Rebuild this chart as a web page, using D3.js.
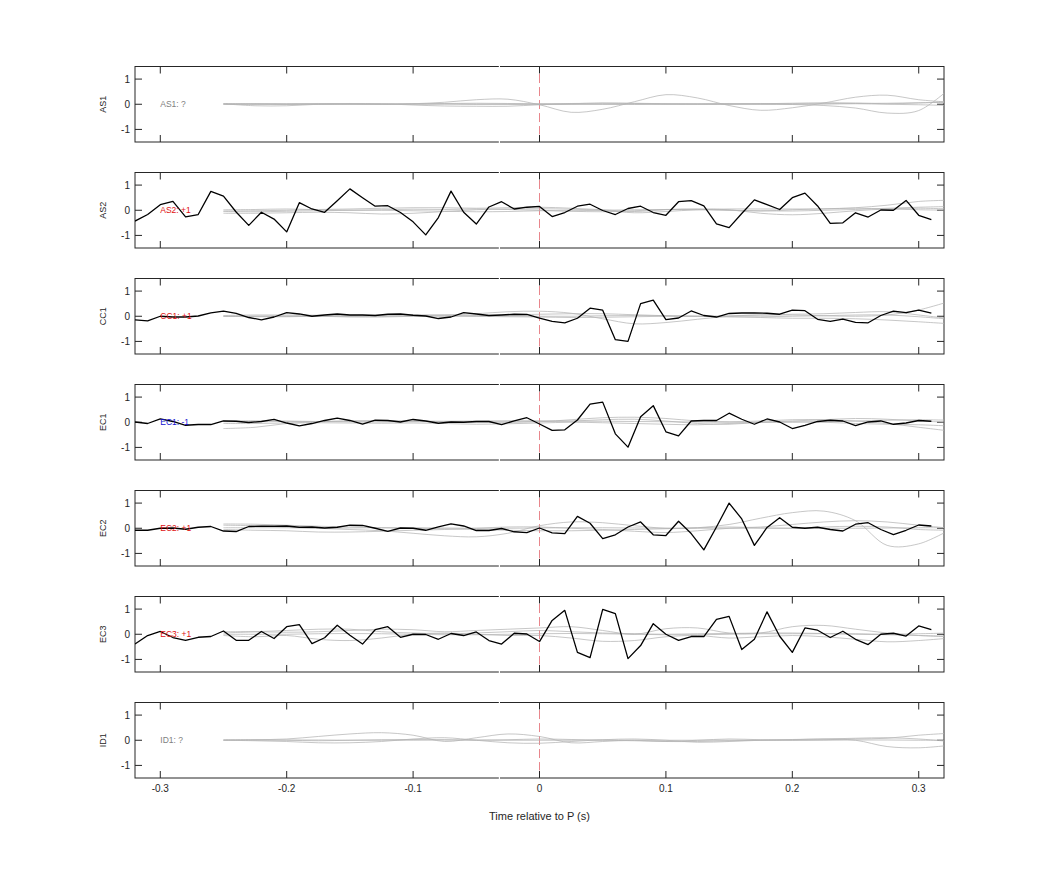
<!DOCTYPE html>
<html><head><meta charset="utf-8">
<script src="https://cdn.jsdelivr.net/npm/d3@7"></script>
<style>body{margin:0;background:#fff}svg{display:block}text{font-family:"Liberation Sans",Arial,sans-serif}</style>
</head><body><svg id="c" width="1042" height="875"></svg>
<script>
const panels = ["AS1","AS2","CC1","EC1","EC2","EC3","ID1"];
const labels = ["AS1: ?","AS2: +1","CC1: +1","EC1: -1","EC2: +1","EC3: +1","ID1: ?"];
const labelColors = ["#808080","#e01010","#e01010","#1010d0","#e01010","#e01010","#808080"];
const xTicks = [-0.3,-0.2,-0.1,0,0.1,0.2,0.3];
const yTicks = [-1,0,1];

const tBlack = [-0.32,-0.31,-0.30,-0.29,-0.28,-0.27,-0.26,-0.25,-0.24,-0.23,-0.22,-0.21,-0.20,-0.19,-0.18,-0.17,-0.16,-0.15,-0.14,-0.13,-0.12,-0.11,-0.10,-0.09,-0.08,-0.07,-0.06,-0.05,-0.04,-0.03,-0.02,-0.01,
0.00,0.01,0.02,0.03,0.04,0.05,0.06,0.07,0.08,0.09,0.10,0.11,0.12,0.13,0.14,0.15,0.16,0.17,0.18,0.19,0.20,0.21,0.22,0.23,0.24,0.25,0.26,0.27,0.28,0.29,0.30,0.31];

const blackAS2 = [-0.43,-0.17,0.22,0.35,-0.26,-0.17,0.75,0.56,-0.07,-0.60,-0.08,-0.35,-0.86,0.30,0.05,-0.08,0.38,0.85,0.50,0.16,0.18,-0.09,-0.46,-0.98,-0.29,0.76,-0.08,-0.55,0.13,0.34,0.05,0.12,
0.15,-0.25,-0.09,0.16,0.24,-0.01,-0.17,0.07,0.16,-0.09,-0.20,0.34,0.38,0.17,-0.54,-0.69,-0.13,0.41,0.22,0.03,0.50,0.68,0.17,-0.52,-0.50,-0.10,-0.27,0.01,0.00,0.39,-0.20,-0.37];
const blackCC1 = [-0.14,-0.18,0.00,-0.03,-0.03,0.01,0.13,0.20,0.11,-0.05,-0.14,-0.03,0.14,0.09,0.00,0.05,0.09,0.05,0.05,0.03,0.08,0.09,0.04,0.01,-0.09,-0.03,0.14,0.09,0.03,0.05,0.08,0.07,
-0.07,-0.20,-0.26,-0.08,0.32,0.24,-0.93,-1.00,0.50,0.64,-0.13,-0.07,0.21,0.03,-0.03,0.11,0.13,0.13,0.12,0.08,0.24,0.22,-0.12,-0.20,-0.11,-0.24,-0.26,0.03,0.20,0.14,0.24,0.12];
const blackEC1 = [0.01,-0.05,0.13,0.03,-0.12,-0.09,-0.09,0.05,0.04,-0.01,0.03,0.11,-0.03,-0.14,-0.05,0.07,0.16,0.07,-0.07,0.08,0.07,0.01,0.11,0.05,-0.04,0.01,0.00,0.03,0.03,-0.09,0.05,0.18,
-0.07,-0.32,-0.30,0.09,0.72,0.80,-0.46,-0.99,0.22,0.66,-0.38,-0.54,0.05,0.07,0.07,0.36,0.12,-0.08,0.13,0.01,-0.25,-0.12,0.03,0.08,0.05,-0.13,0.01,0.05,-0.08,-0.03,0.07,0.04];
const blackEC2 = [-0.08,-0.08,0.00,0.01,-0.04,0.04,0.07,-0.11,-0.13,0.07,0.08,0.08,0.09,0.04,0.05,0.01,0.04,0.12,0.11,0.00,-0.12,0.01,0.00,-0.08,0.05,0.17,0.09,-0.09,-0.09,-0.01,-0.14,-0.17,
0.01,-0.18,-0.21,0.47,0.20,-0.41,-0.26,0.05,0.25,-0.26,-0.29,0.28,-0.21,-0.86,0.05,1.00,0.37,-0.68,0.03,0.42,0.04,0.00,0.04,-0.05,-0.11,0.16,0.22,-0.05,-0.25,-0.08,0.13,0.09];
const blackEC3 = [-0.39,-0.05,0.11,-0.13,-0.24,-0.12,-0.09,0.13,-0.24,-0.24,0.11,-0.17,0.30,0.38,-0.37,-0.14,0.36,-0.04,-0.39,0.18,0.30,-0.12,0.00,-0.01,-0.20,0.03,-0.05,0.09,-0.25,-0.39,0.04,0.01,
-0.29,0.55,0.95,-0.72,-0.93,0.99,0.82,-0.97,-0.45,0.42,0.00,-0.24,-0.09,-0.09,0.59,0.71,-0.61,-0.20,0.89,-0.08,-0.72,0.25,0.16,-0.13,0.12,-0.20,-0.41,0.00,0.04,-0.07,0.33,0.18];

const tGray = [-0.25,-0.225,-0.2,-0.175,-0.15,-0.125,-0.1,-0.075,-0.05,-0.025,0,0.025,0.05,0.075,0.1,0.125,0.15,0.175,0.2,0.225,0.25,0.275,0.3,0.325];

const grayAS1 = [
 [0,0,0,0,0,0,0.02,0.08,0.18,0.2,-0.02,-0.32,-0.2,0.1,0.38,0.25,-0.05,-0.24,-0.14,0.05,0.28,0.36,0.18,0.08],
 [0,0.01,0,0,0.01,0,0,0.01,0,0,0.01,0,0,0.01,0,0,0.01,0,-0.01,-0.05,-0.15,-0.35,-0.25,0.65],
 [0.02,-0.06,-0.06,0,0.02,0.02,-0.03,-0.07,-0.08,-0.08,-0.02,0.02,0.05,0.04,0.02,0,0,0.02,0.04,0.06,0.05,0.02,0.05,0.1],
 [0.03,0.02,0.02,0.03,0.03,0.01,0.02,0.03,0.04,0.03,0.02,0.03,0.04,0.03,0.02,0.02,0.03,0.03,0.02,0.02,0.03,0.04,0.06,0.08],
 [0,0.01,0,0.01,0,0,0.01,0.01,0,0,-0.01,0,0,-0.01,0,0.01,0,0,0,0.01,0.02,0,-0.02,-0.05]];
const grayAS2 = [
 [-0.12,-0.12,-0.1,-0.08,-0.1,-0.15,-0.12,-0.05,0.02,0.05,0.06,0.04,0.0,-0.1,-0.05,0.02,0.05,0.05,0.05,0.05,0.1,0.2,0.35,0.4],
 [-0.03,-0.02,0,0.03,0.05,0.08,0.1,0.1,0.08,0.1,0.12,0.08,0.02,-0.05,0.02,0.05,0.02,-0.12,-0.18,-0.12,-0.02,0.05,0.08,0.05],
 [0.02,0.03,0.05,0.02,0,0.02,0.04,0.03,0.05,0.03,0.0,-0.04,-0.06,-0.02,0.03,0.04,0.0,-0.03,0.02,0.06,0.08,0.05,0.02,0.0],
 [-0.05,-0.06,-0.04,-0.02,0,0,-0.02,-0.04,-0.06,-0.05,-0.02,-0.02,0,0.02,0.03,0.02,0,-0.02,-0.03,0,0.03,0.08,0.12,0.15]];
const grayCC1 = [
 [0,0,0,0,0,0,0.02,0.05,0.1,0.18,0.2,0.12,-0.1,-0.3,-0.25,-0.12,0,0.05,0.05,0.02,0.0,0.05,0.25,0.6],
 [0.03,0.05,0.05,0.04,0.03,0.05,0.06,0.05,0.03,0.05,0.08,0.1,0.1,0.06,0.02,0,0.02,0.05,0.08,0.1,0.15,0.18,0.05,-0.1],
 [0,-0.02,-0.02,0,-0.03,-0.03,0,0.02,0,-0.02,-0.03,-0.05,-0.04,-0.02,0,0,-0.02,-0.05,-0.08,-0.08,-0.1,-0.15,-0.22,-0.3],
 [0,0,0.01,0.01,0,0.01,0.01,0,0,0.01,0,0,0.02,0.03,0.02,0,-0.02,-0.02,0,0.02,0.05,0.05,-0.02,-0.12]];
const grayEC1 = [
 [-0.25,-0.2,-0.05,0.02,0.05,0.05,0.04,0.02,0.0,0.0,0.02,0.1,0.18,0.2,0.15,0.05,0.02,0.05,0.1,0.1,0.05,-0.05,-0.2,-0.35],
 [0.05,0.06,0.05,0.03,0.05,0.06,0.05,0.04,0.05,0.06,0.06,0.05,0.1,0.12,0.05,-0.05,-0.08,0,0.05,0.1,0.15,0.12,0.05,0.0],
 [-0.05,-0.05,-0.03,-0.02,-0.03,-0.04,-0.03,-0.05,-0.08,-0.06,-0.03,0,-0.02,-0.05,-0.08,-0.1,-0.05,0,0.02,0,-0.05,-0.08,-0.1,-0.15],
 [0.02,0.02,0.03,0.03,0.02,0.01,0.02,0.03,0.02,0.02,0.03,0.04,0.04,0.03,0.02,0.01,0,0,0,0.02,0.05,0.08,0.1,0.08]];
const grayEC2 = [
 [0.17,0.16,0.12,0.08,0.05,0.02,0,-0.02,-0.05,-0.08,-0.1,-0.1,-0.08,-0.05,-0.02,0.02,0.15,0.4,0.62,0.68,0.3,-0.68,-0.62,-0.05],
 [0.12,0.1,0.05,0,-0.05,-0.1,-0.2,-0.3,-0.34,-0.2,0.1,0.25,0.22,0.1,0,0.02,0.05,0.02,0,0.05,0.08,0.05,-0.05,-0.08],
 [-0.05,-0.08,-0.1,-0.15,-0.15,-0.12,-0.08,-0.05,0,0.05,0.05,0,-0.05,-0.12,-0.17,-0.1,0,0.05,0.15,0.25,0.3,0.25,0.12,0.0],
 [0.02,0.02,0.02,0,0.01,0.02,0.02,0.01,0,0,0.01,0.02,0.02,0.01,0,0,0,0,0,0,0,0.01,0.02,0.02]];
const grayEC3 = [
 [0.1,0.1,0.08,0.1,0.15,0.2,0.18,0.1,0.15,0.2,0.25,0.3,0.15,0,0.22,0.25,0.05,0.05,0.3,0.35,0.2,0.05,-0.05,-0.1],
 [-0.05,-0.1,-0.05,-0.2,-0.25,-0.15,0,0.05,0,-0.05,-0.05,-0.15,-0.28,-0.25,-0.1,-0.05,-0.15,-0.1,-0.05,-0.1,-0.2,-0.3,-0.25,-0.15],
 [0.05,0.1,0.15,0.2,0.2,0.1,0.05,0.02,0.05,0.1,0.15,0.1,0.05,0.02,0,0.02,0.03,0.05,0.05,0.03,0.02,0,0.02,0.05],
 [0,0,0,0.02,0.03,0.02,0,-0.02,-0.02,0,0.02,0.03,0.02,0,-0.02,-0.02,0,0.02,0.02,0.02,0,-0.02,-0.05,-0.08]];
const grayID1 = [
 [0,0.02,0.05,0.15,0.25,0.3,0.2,-0.05,0.1,0.25,0.15,-0.1,-0.05,0,-0.05,0,0.05,0.02,0,0.02,0.05,0.08,0.2,0.28],
 [0,-0.02,-0.05,-0.1,-0.1,-0.05,0.05,0.1,0,-0.1,-0.12,-0.05,0.02,0.05,0.0,-0.08,-0.05,0,0.02,0.05,0.0,-0.25,-0.3,-0.2],
 [0.02,0.02,0,-0.02,0,0.02,0.03,0.02,0,0.02,0.05,0.03,0,-0.02,-0.05,-0.05,-0.02,0,0.03,0.05,0.08,0.1,0.05,-0.05],
 [0,0,0.01,0.01,0,0,0,0.01,0.01,0,0,0,0.01,0,0,0,0,0,0,0,0.01,0.01,0,0]];

const blackSeries = [null, blackAS2, blackCC1, blackEC1, blackEC2, blackEC3, null];
const graySeries = [grayAS1, grayAS2, grayCC1, grayEC1, grayEC2, grayEC3, grayID1];

const svg = d3.select("#c");
const L = 135, R = 944, top0 = 66.5, ph = 75.5, step = 106;
const x = d3.scaleLinear().domain([-0.32, 0.32]).range([L, R]);

panels.forEach((name, i) => {
  const t = top0 + step * i, b = t + ph;
  const y = d3.scaleLinear().domain([-1.5, 1.5]).range([b, t]);
  const g = svg.append("g");
  const cid = "clip" + i;
  svg.append("clipPath").attr("id", cid).append("rect").attr("x", L).attr("y", t).attr("width", R - L).attr("height", ph);

  g.append("rect").attr("x", L).attr("y", t).attr("width", R - L).attr("height", ph)
    .attr("fill", "none").attr("stroke", "#262626").attr("stroke-width", 1);
  g.append("line").attr("x1", x(-0.0317)).attr("x2", x(-0.0317)).attr("y1", t - 1).attr("y2", b + 1)
    .attr("stroke", "#fff").attr("stroke-width", 1.2);

  const ax = g.append("g").attr("stroke", "#262626").attr("stroke-width", 1);
  xTicks.forEach(v => {
    ax.append("line").attr("x1", x(v)).attr("x2", x(v)).attr("y1", t).attr("y2", t + 7);
    ax.append("line").attr("x1", x(v)).attr("x2", x(v)).attr("y1", b).attr("y2", b - 7);
  });
  yTicks.forEach(v => {
    ax.append("line").attr("x1", L).attr("x2", L + 7).attr("y1", y(v)).attr("y2", y(v));
    ax.append("line").attr("x1", R).attr("x2", R - 7).attr("y1", y(v)).attr("y2", y(v));
    g.append("text").attr("x", 130).attr("y", y(v)).attr("dy", "0.35em").attr("text-anchor", "end")
      .attr("font-size", 10).attr("fill", "#262626").text(v);
  });
  g.append("text").attr("transform", `translate(${103},${y(0)}) rotate(-90)`).attr("text-anchor", "middle")
    .attr("dy", "0.35em").attr("font-size", 9).attr("fill", "#262626").text(name);

  const data = g.append("g").attr("clip-path", `url(#${cid})`);
  data.append("line").attr("x1", x(0)).attr("x2", x(0)).attr("y1", y(1.2)).attr("y2", y(-1.2))
    .attr("stroke", "#e8868c").attr("stroke-width", 1).attr("stroke-dasharray", "9,4");

  const lineG = d3.line().x((d, k) => x(tGray[k])).y(d => y(d)).curve(d3.curveCatmullRom.alpha(0.5));
  graySeries[i].forEach(s => {
    data.append("path").attr("d", lineG(s)).attr("fill", "none").attr("stroke", "#b4b4b4")
      .attr("stroke-opacity", 0.75).attr("stroke-width", 1);
  });
  if (blackSeries[i]) {
    const lineB = d3.line().x((d, k) => x(tBlack[k])).y(d => y(d));
    data.append("path").attr("d", lineB(blackSeries[i])).attr("fill", "none").attr("stroke", "#000")
      .attr("stroke-width", 1.3).attr("stroke-linejoin", "round");
  }
  g.append("text").attr("x", x(-0.3)).attr("y", y(0)).attr("dy", "0.35em").attr("font-size", 8.5)
    .attr("fill", labelColors[i]).text(labels[i]);

  if (i === panels.length - 1) {
    xTicks.forEach(v => {
      g.append("text").attr("x", x(v)).attr("y", b + 14).attr("text-anchor", "middle")
        .attr("font-size", 10).attr("fill", "#262626").text(v);
    });
    g.append("text").attr("x", x(0)).attr("y", b + 42).attr("text-anchor", "middle")
      .attr("font-size", 11).attr("fill", "#262626").text("Time relative to P (s)");
  }
});
</script></body></html>
